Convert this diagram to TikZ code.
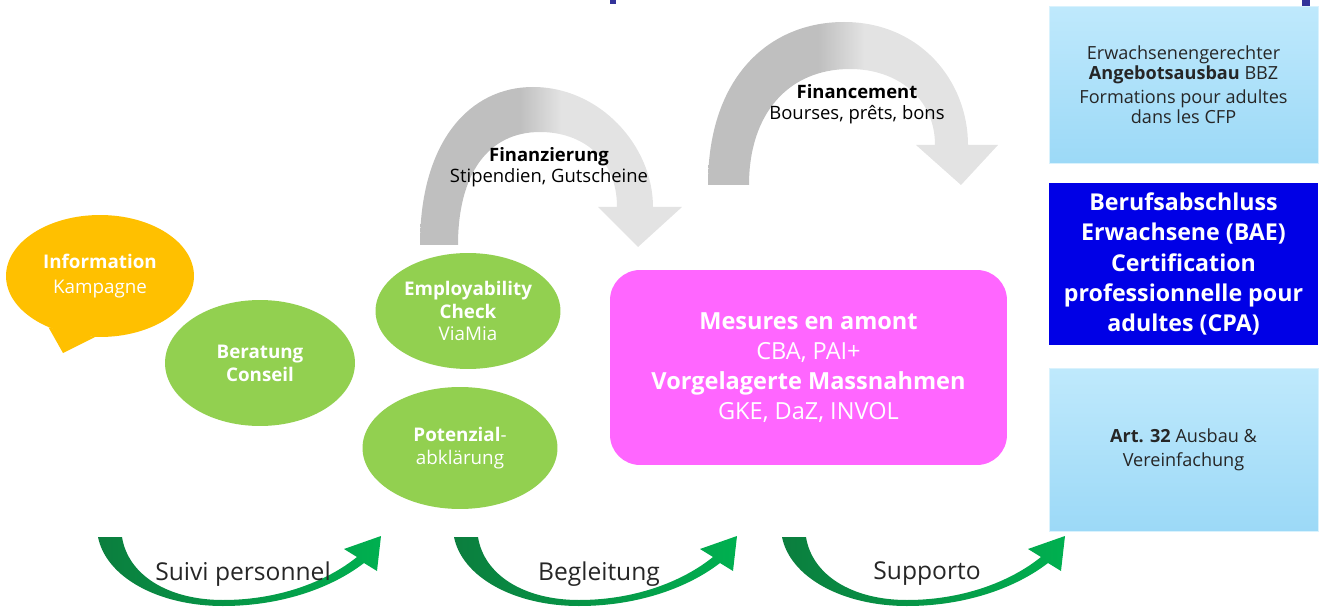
\documentclass[tikz,border=0pt]{standalone}
\usepackage{fontspec}
\setmainfont{Open Sans}
\usepackage{xcolor}
\usepackage{tikz}
\usetikzlibrary{shapes.geometric}
\definecolor{infoyellow}{HTML}{FFC000}
\definecolor{stepgreen}{HTML}{92D050}
\definecolor{amontpink}{HTML}{FF66FF}
\definecolor{baeblue}{HTML}{0000E6}
\definecolor{boxtop}{HTML}{BFE9FC}
\definecolor{boxbot}{HTML}{9CD9F7}
\definecolor{arcdark}{HTML}{BFBFBF}
\definecolor{arclight}{HTML}{E3E3E3}
\definecolor{followdark}{HTML}{0B7E3E}
\definecolor{followlight}{HTML}{00B050}
\definecolor{titlenavy}{HTML}{33339A}
\pgfdeclarehorizontalshading{arcshade}{100bp}{color(0bp)=(arcdark); color(44bp)=(arcdark); color(52bp)=(arclight); color(100bp)=(arclight)}

\begin{document}
\begin{tikzpicture}[x=0.02cm,y=0.02cm,
  stepnode/.style={ellipse,fill=stepgreen,text=white,align=center,inner sep=-10pt,font=\fontsize{10.7}{13}\selectfont},
  rightbox/.style={rectangle,align=center,minimum width=5.38cm,inner sep=0pt},
  lightbox/.style={rightbox,top color=boxtop,bottom color=boxbot,draw=boxtop!60!white,text=black!85,font=\fontsize{10.3}{11.4}\selectfont},
  arclabel/.style={align=center,text=black,font=\fontsize{10.5}{12}\selectfont},
  followlabel/.style={text=black!85,font=\fontsize{14}{16}\selectfont}]
\useasboundingbox (0,0) rectangle (1322,606);
\fill[titlenavy] (610,602) rectangle (616,606);
\fill[titlenavy] (1302,595) rectangle (1310,606);

\shade[shading=arcshade] (420,361) .. controls (420,465) and (470,519) .. (533,519) .. controls (600,519) and (653,460) .. (653,399) -- (682,399) -- (638,359) -- (598,399) -- (617,399) .. controls (617,448) and (582,474) .. (540,474) .. controls (488,474) and (458,432) .. (458,361) -- cycle;
\shade[shading=arcshade] (708,421) .. controls (708,530) and (770,584) .. (844,584) .. controls (920,584) and (968,525) .. (968,461) -- (998,461) -- (961,421) -- (916,461) -- (935,461) .. controls (935,508) and (897,537) .. (850,537) .. controls (788,537) and (749,492) .. (749,421) -- cycle;
\node[arclabel] (finanz) at (549,439) {\textbf{Finanzierung}\\Stipendien, Gutscheine};
\node[arclabel] (financ) at (857,502) {\textbf{Financement}\\Bourses, prêts, bons};

\node[ellipse,fill=infoyellow,minimum width=3.76cm,minimum height=2.44cm,inner sep=0pt,text=white,align=center,font=\fontsize{10.7}{14.5}\selectfont] (info) at (100,330) {\textbf{Information}\\Kampagne};
\fill[infoyellow] (info.225) -- (63,253) -- (info.265) -- cycle;

\node[stepnode,minimum width=3.8cm,minimum height=2.52cm] (berat) at (260,243) {\textbf{Beratung}\\\textbf{Conseil}};
\node[stepnode,minimum width=3.7cm,minimum height=2.32cm] (employ) at (468,295) {\textbf{Employability}\\\textbf{Check}\\ViaMia};
\node[stepnode,minimum width=3.9cm,minimum height=2.44cm] (potenz) at (460,158) {\textbf{Potenzial}-\\abklärung};

\node[rectangle,rounded corners=0.6cm,fill=amontpink,text=white,align=center,minimum width=7.94cm,minimum height=3.9cm,font=\fontsize{13.4}{17}\selectfont] (amont) at (808.5,238.5) {\textbf{Mesures en amont}\\CBA, PAI+\\\textbf{Vorgelagerte Massnahmen}\\GKE, DaZ, INVOL};

\node[lightbox,minimum height=3.14cm] (angebot) at (1183.5,521.5) {Erwachsenengerechter\\\textbf{Angebotsausbau} BBZ\\[2.5pt]Formations pour adultes\\dans les CFP};
\node[rightbox,fill=baeblue,text=white,minimum height=3.24cm,font=\bfseries\fontsize{13.2}{17.2}\selectfont] (bae) at (1183.5,342) {Berufsabschluss\\Erwachsene (BAE)\\Certification\\professionnelle pour\\adultes (CPA)};
\node[lightbox,minimum height=3.26cm,font=\fontsize{10.3}{13.6}\selectfont] (art) at (1183.5,156.5) {\textbf{Art. 32} Ausbau \&\\Vereinfachung};

\foreach \gx/\glabel/\gname in {98/Suivi personnel/suivi,454/Begleitung/begl,782/Supporto/supp} {
  \shade[left color=followdark,right color=followlight,shift={(\gx,69)}] (0,0) .. controls (8,-40) and (60,-69) .. (125,-69) .. controls (185,-69) and (235,-50) .. (266,-26) -- (279,-34) -- (283,1) -- (246,-12) -- (259,-20) .. controls (228,-45) and (180,-63) .. (125,-63) .. controls (70,-63) and (30,-38) .. (24,0) -- cycle;
  \node[followlabel] (\gname) at (\gx+145,32) {\glabel};
}
\end{tikzpicture}
\end{document}
